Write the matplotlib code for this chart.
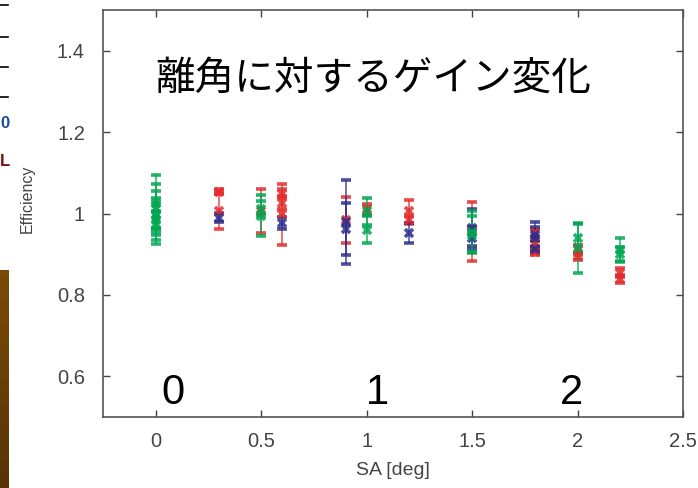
import matplotlib
matplotlib.use("Agg")
import matplotlib.pyplot as plt
import numpy as np
from matplotlib.colors import LinearSegmentedColormap

# ---- data ----
green_x = [0, 0, 0, 0, 0, 0, 0.5, 0.5, 1.0, 1.0, 1.5, 1.5, 2.0, 2.0, 2.2, 2.2]
green_y = [1.025, 1.01, 1.0, 0.995, 0.985, 0.975, 1.012, 0.995, 1.005, 0.96,
           0.955, 0.948, 0.94, 0.915, 0.91, 0.9]
green_e = [0.07, 0.063, 0.037, 0.06, 0.02, 0.05, 0.018, 0.05, 0.034, 0.033,
           0.05, 0.045, 0.036, 0.06, 0.029, 0.017]

red_x = [0.3, 0.3, 0.5, 0.6, 0.6, 0.6, 0.9, 1.0, 1.2, 1.2, 1.5, 1.8, 1.8, 1.8,
         2.0, 2.0, 2.2, 2.2]
red_y = [1.054, 1.007, 1.005, 1.049, 1.027, 0.998, 0.984, 1.01, 1.005, 0.985,
         0.956, 0.952, 0.926, 0.905, 0.91, 0.895, 0.855, 0.84]
red_e = [0.006, 0.045, 0.054, 0.01, 0.015, 0.075, 0.057, 0.014, 0.029, 0.01,
         0.073, 0.01, 0.006, 0.006, 0.012, 0.01, 0.012, 0.01]

blue_x = [0.3, 0.6, 0.9, 0.9, 1.2, 1.5, 1.5, 1.8, 1.8, 1.8]
blue_y = [0.99, 0.977, 0.98, 0.962, 0.952, 0.965, 0.94, 0.948, 0.94, 0.912]
blue_e = [0.012, 0.014, 0.103, 0.065, 0.025, 0.045, 0.028, 0.03, 0.028, 0.006]

x_ticks = [0, 0.5, 1, 1.5, 2, 2.5]
x_ticklabels = ["0", "0.5", "1", "1.5", "2", "2.5"]
y_ticks = [0.6, 0.8, 1.0, 1.2, 1.4]
y_ticklabels = ["0.6", "0.8", "1", "1.2", "1.4"]

title_text = "離角に対するゲイン変化"
big_labels = ["0", "1", "2"]
big_label_x = [0.08, 1.05, 1.97]

GREEN = "#00a651"
RED = "#e52b2b"
BLUE = "#2b2e8c"
TEXT = "#444444"

plt.rcParams['font.family'] = ['Liberation Sans', 'DejaVu Sans']

fig = plt.figure(figsize=(6.98, 4.88), dpi=100)
ax = fig.add_axes([103/698, 1-417/488, (683-103)/698, (417-10)/488])

for xs, ys, es, c in [(red_x, red_y, red_e, RED),
                      (blue_x, blue_y, blue_e, BLUE),
                      (green_x, green_y, green_e, GREEN)]:
    ax.errorbar(xs, ys, yerr=es, fmt='x', color=c, ecolor=c, elinewidth=1.1,
                capsize=3.5, capthick=1.3, markersize=5.5, markeredgewidth=2.6,
                alpha=0.85)

ax.set_xlim(-0.25, 2.5)
ax.set_ylim(0.5, 1.5)
ax.set_xticks(x_ticks)
ax.set_xticklabels(x_ticklabels)
ax.set_yticks(y_ticks)
ax.set_yticklabels(y_ticklabels)
ax.tick_params(direction='in', top=True, right=True, length=5, width=1,
               colors='#444444', labelsize=14.5, labelcolor=TEXT)
ax.tick_params(axis='x', pad=11)
ax.tick_params(axis='y', pad=13)
for s in ax.spines.values():
    s.set_color('#555555')
    s.set_linewidth(1.2)

ax.set_xlabel("SA [deg]", fontsize=14, color=TEXT, labelpad=8)
ax.set_ylabel("Efficiency", fontsize=11.5, color=TEXT)
ax.yaxis.set_label_coords(-0.118, 0.536)

ax.text(0.0, 1.33, title_text, fontsize=28.5, color='black',
        family=['Noto Sans CJK JP', 'DejaVu Sans'], va='center', ha='left',
        transform=ax.transData)
for lx, lab in zip(big_label_x, big_labels):
    ax.text(lx, 0.56, lab, fontsize=30, color='black', ha='center', va='center')

# left-edge fragment of a neighbouring slide element
edge = fig.add_axes([0, 0, 9/698, (488-270)/488])
grad = np.linspace(0, 1, 100).reshape(-1, 1)
cmap = LinearSegmentedColormap.from_list("b", ["#5a3206", "#7a4a06"])
edge.imshow(grad, aspect='auto', cmap=cmap, origin='lower')
edge.axis('off')
for yy in [5, 37, 67, 97]:
    fig.add_artist(plt.Line2D([0, 8/698], [1-yy/488, 1-yy/488], color='black', lw=1.2))
fig.text(0.0, 1-123/488, "0", color='#1a4a9a', fontsize=12, fontweight='bold', va='center')
fig.text(0.0, 1-162/488, "L", color='#7a1010', fontsize=12, fontweight='bold', va='center')

fig.savefig("out.png", dpi=100)
